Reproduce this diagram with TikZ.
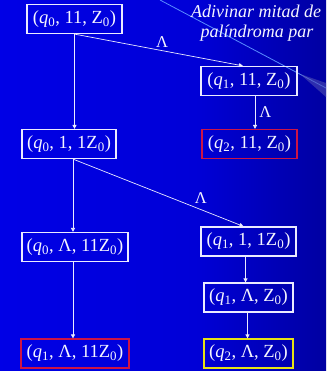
\documentclass[tikz,border=0pt]{standalone}
\usepackage{fontspec}
\setmainfont{Liberation Serif}
\usetikzlibrary{arrows.meta}
\definecolor{boxw}{RGB}{235,235,255}
\definecolor{boxr}{RGB}{205,20,70}
\definecolor{boxy}{RGB}{230,225,20}
\definecolor{txtw}{RGB}{245,245,255}
\definecolor{bgA}{RGB}{0,0,242}
\definecolor{bgB}{RGB}{0,0,215}
\definecolor{bgC}{RGB}{0,0,95}
\definecolor{deco}{RGB}{90,140,255}
\pgfdeclarehorizontalshading{bgshade}{100bp}{color(0bp)=(bgA); color(55bp)=(bgB); color(100bp)=(bgC)}
\newcommand\cfgq[3]{(\textit{q}\textsubscript{#1}, #2, #3)}
\tikzset{
  cfgbox/.style={draw=boxw, line width=1.2pt, minimum height=29pt, inner xsep=1pt, inner ysep=0pt,
    text=txtw, font=\fontsize{18.5}{18.5}\selectfont},
  redbox/.style={cfgbox, draw=boxr},
  yelbox/.style={cfgbox, draw=boxy},
  conn/.style={draw=boxw, line width=0.7pt, -{Triangle[length=4pt,width=4pt]}},
  lam/.style={text=txtw, font=\fontsize{16.5}{16.5}\selectfont, inner sep=0pt},
  ttl/.style={text=txtw, font=\fontsize{18}{18}\selectfont\itshape, inner sep=0pt, anchor=base}
}
\begin{document}
\begin{tikzpicture}[x=1pt,y=-1pt]
\useasboundingbox (0,0) rectangle (326,371);
\shade[shading=bgshade] (0,0) rectangle (326,371);
\draw[deco, line width=0.8pt] (160,0) -- (326,88);
\fill[gray!60!blue, opacity=0.6] (300,74) -- (326,83) -- (326,97) -- cycle;
\node[ttl] (t1) at (256,18) {Adivinar mitad de};
\node[ttl] (t2) at (257,38) {palíndroma par};
\node[cfgbox, minimum width=95pt] (b1) at (74.5,19) {\cfgq{0}{11}{Z\textsubscript{0}}};
\node[cfgbox, minimum width=96pt] (b2) at (249,81) {\cfgq{1}{11}{Z\textsubscript{0}}};
\node[cfgbox, minimum width=94pt] (b3) at (69,144) {\cfgq{0}{1}{1Z\textsubscript{0}}};
\node[redbox, minimum width=95pt] (b4) at (249.5,144) {\cfgq{2}{11}{Z\textsubscript{0}}};
\node[cfgbox, minimum width=106pt] (b5) at (75,247) {\cfgq{0}{Λ}{11Z\textsubscript{0}}};
\node[cfgbox, minimum width=95pt] (b6) at (248.5,241.5) {\cfgq{1}{1}{1Z\textsubscript{0}}};
\node[cfgbox, minimum width=89pt] (b7) at (248.5,297.5) {\cfgq{1}{Λ}{Z\textsubscript{0}}};
\node[redbox, minimum width=108pt] (b8) at (75,353.5) {\cfgq{1}{Λ}{11Z\textsubscript{0}}};
\node[yelbox, minimum width=89pt] (b9) at (248.5,353.5) {\cfgq{2}{Λ}{Z\textsubscript{0}}};
\draw[conn] (b1.south) -- (b1.south |- b3.north);
\draw[conn] (b1.south) -- ([xshift=-6pt]b2.north) node[lam, pos=0.52, above=3pt] (l1) {Λ};
\draw[conn] ([xshift=6pt]b2.south) -- ([xshift=6pt]b2.south |- b4.north) node[lam, midway, right=4pt] (l2) {Λ};
\draw[conn] ([xshift=4pt]b3.south) -- ([xshift=4pt]b3.south |- b5.north);
\draw[conn] ([xshift=4pt]b3.south) -- ([xshift=-5pt]b6.north) node[lam, pos=0.75, above=6pt] (l3) {Λ};
\draw[conn] ([xshift=-3pt]b6.south) -- ([xshift=-3pt]b6.south |- b7.north);
\draw[conn] ([xshift=-1pt]b7.south) -- ([xshift=-1pt]b7.south |- b9.north);
\draw[conn] ([xshift=-2pt]b5.south) -- ([xshift=-2pt]b5.south |- b8.north);
\end{tikzpicture}
\end{document}
